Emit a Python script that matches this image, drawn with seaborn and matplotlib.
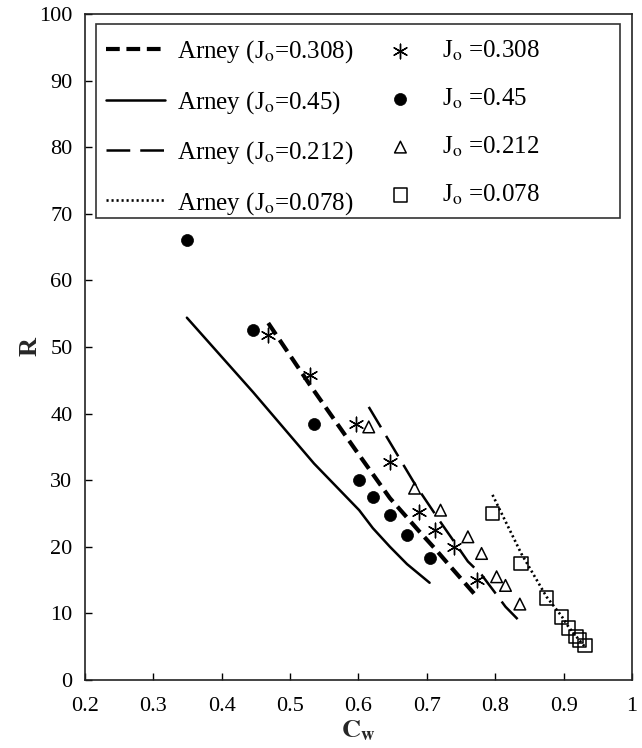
import matplotlib
matplotlib.use("Agg")
import matplotlib.pyplot as plt
import seaborn as sns
from matplotlib.patches import Rectangle
from matplotlib.ticker import FuncFormatter

sns.set_theme(style="ticks")
plt.rcParams["font.family"] = ["Liberation Serif", "DejaVu Serif"]
plt.rcParams["mathtext.fontset"] = "stix"

# Measured recovery R (%) against wall water fraction Cw, by inlet jet number Jo
cw_308 = [0.468, 0.529, 0.596, 0.646, 0.689, 0.712, 0.739, 0.774]
r_308 = [51.8, 45.8, 38.4, 32.8, 25.3, 22.5, 20.0, 15.0]

cw_45 = [0.349, 0.446, 0.535, 0.601, 0.621, 0.646, 0.671, 0.704]
r_45 = [66.1, 52.6, 38.4, 30.0, 27.5, 24.8, 21.8, 18.3]

cw_212 = [0.615, 0.682, 0.720, 0.760, 0.780, 0.802, 0.815, 0.836]
r_212 = [38.0, 28.8, 25.5, 21.5, 19.0, 15.5, 14.2, 11.4]

cw_078 = [0.796, 0.838, 0.875, 0.897, 0.907, 0.918, 0.923, 0.931]
r_078 = [25.0, 17.5, 12.3, 9.5, 7.8, 6.5, 6.0, 5.2]

# Arney model predictions at the measured Cw values
arney_308 = [53.6, 44.3, 34.5, 27.3, 22.3, 19.7, 16.5, 12.4]
arney_45 = [54.4, 43.2, 32.5, 25.5, 22.8, 20.0, 17.4, 14.6]
arney_212 = [41.0, 29.5, 23.7, 17.8, 15.8, 12.8, 11.0, 8.8]
arney_078 = [27.8, 19.0, 12.5, 9.6, 8.0, 6.6, 6.0, 5.0]

x_ticks = [0.2, 0.3, 0.4, 0.5, 0.6, 0.7, 0.8, 0.9, 1.0]
y_ticks = [0, 10, 20, 30, 40, 50, 60, 70, 80, 90, 100]

FS_TICK = 16
FS_LEG = 18

fig = plt.figure(figsize=(6.42, 7.48), dpi=100)
ax = fig.add_axes([0.1324, 0.0909, 0.852, 0.8904])

line_kw = dict(color="black", estimator=None, sort=False, ax=ax)
sns.lineplot(x=cw_308, y=arney_308, lw=3.0, linestyle=(0, (3.3, 1.6)),
             label="Arney (J$_\\mathrm{o}$=0.308)", **line_kw)
sns.lineplot(x=cw_45, y=arney_45, lw=1.8, linestyle="-",
             label="Arney (J$_\\mathrm{o}$=0.45)", **line_kw)
sns.lineplot(x=cw_212, y=arney_212, lw=1.8, linestyle=(0, (9.5, 4.0)),
             label="Arney (J$_\\mathrm{o}$=0.212)", **line_kw)
sns.lineplot(x=cw_078, y=arney_078, lw=1.9, linestyle=(0, (0.8, 1.1)),
             label="Arney (J$_\\mathrm{o}$=0.078)", **line_kw)

sns.scatterplot(x=cw_308, y=r_308, marker=(6, 2, 0), s=110, color="black",
                linewidth=1.0, label="J$_\\mathrm{o}$ =0.308", ax=ax, zorder=3)
sns.scatterplot(x=cw_45, y=r_45, marker="o", s=75, color="black",
                edgecolor="black", linewidth=0.5, label="J$_\\mathrm{o}$ =0.45",
                ax=ax, zorder=3)
sns.scatterplot(x=cw_212, y=r_212, marker="^", s=70, color="black",
                facecolor="none", edgecolor="black", linewidth=1.1,
                label="J$_\\mathrm{o}$ =0.212", ax=ax, zorder=3)
sns.scatterplot(x=cw_078, y=r_078, marker="s", s=95, color="black",
                facecolor="none", edgecolor="black", linewidth=1.1,
                label="J$_\\mathrm{o}$ =0.078", ax=ax, zorder=3)

ax.set_xlim(0.2, 1.0)
ax.set_ylim(0, 100)
ax.set_xticks(x_ticks)
ax.set_yticks(y_ticks)
ax.xaxis.set_major_formatter(FuncFormatter(lambda v, p: f"{v:g}"))
ax.tick_params(direction="in", length=5, width=1.0, color="black",
               labelsize=FS_TICK, labelcolor="black", pad=9)
ax.tick_params(axis="x", pad=12)
for sp in ax.spines.values():
    sp.set_visible(True)
    sp.set_color("#222222")
    sp.set_linewidth(1.2)

ax.set_xlabel("$\\mathbf{C_w}$", fontsize=19, labelpad=2)
ax.set_ylabel("R", fontsize=19, fontweight="bold", labelpad=-2)

handles, labels = ax.get_legend_handles_labels()
leg = ax.legend(handles, labels, ncol=2, loc="upper left",
                bbox_to_anchor=(0.038, 0.963), frameon=False, fontsize=FS_LEG,
                borderpad=0, borderaxespad=0, handlelength=2.36,
                handletextpad=0.48, columnspacing=0.7, labelspacing=0.94)
for t in leg.get_texts():
    t.set_color("black")

ax.add_patch(Rectangle((0.020, 0.693), 0.958, 0.292, transform=ax.transAxes,
                       fill=False, lw=1.2, edgecolor="#333333", zorder=5))

fig.savefig("out.png", dpi=100)
